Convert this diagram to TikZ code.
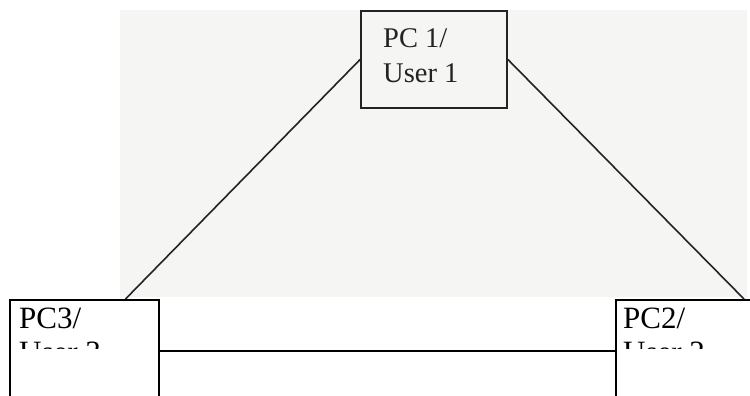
\documentclass[tikz,border=0pt]{standalone}
\usepackage{fontspec}
\setmainfont{Liberation Serif}
\definecolor{scan}{RGB}{245,246,244}
\definecolor{ink}{RGB}{35,35,35}
\begin{document}
\begin{tikzpicture}[x=1pt,y=-1pt,
  scanbox/.style={draw=ink, line width=1.8pt, fill=scan, minimum width=146pt, minimum height=97pt, inner sep=0pt},
  pcbox/.style={draw=black, line width=2pt, fill=white, inner sep=0pt, minimum height=102pt, anchor=north west},
  scantext/.style={text=ink, font=\fontsize{28.5}{34}\selectfont, anchor=base west, inner sep=0pt},
  pctext/.style={text=black, font=\fontsize{31}{36}\selectfont, anchor=base west, inner sep=0pt},
  link/.style={draw=ink, line width=1.6pt},
  wire/.style={draw=black, line width=2pt}]
\useasboundingbox (0,0) rectangle (750,396);
\clip (0,0) rectangle (750,396);
\fill[scan] (120,10) rectangle (747,297);
\node[scanbox] (pc1) at (434,59.5) {};
\node[scantext] (pc1a) at (383,48) {PC 1/};
\node[scantext] (pc1b) at (383,83) {User 1};
\node[pcbox, minimum width=149pt] (pc3) at (8.5,299) {};
\node[pcbox, minimum width=200pt] (pc2) at (615,299) {};
\begin{scope}
\clip (0,0) rectangle (750,348.5);
\node[pctext] (pc3a) at (19,328) {PC3/};
\node[pctext] (pc3b) at (19,362) {User 3};
\node[pctext] (pc2a) at (623,328) {PC2/};
\node[pctext] (pc2b) at (623,362) {User 2};
\end{scope}
\draw[link] (pc1.west) -- ([xshift=-34pt]pc3.north east);
\draw[link] (pc1.east) -- ([xshift=129pt]pc2.north west);
\draw[wire] (pc3.east) -- (pc2.west);
\end{tikzpicture}
\end{document}
